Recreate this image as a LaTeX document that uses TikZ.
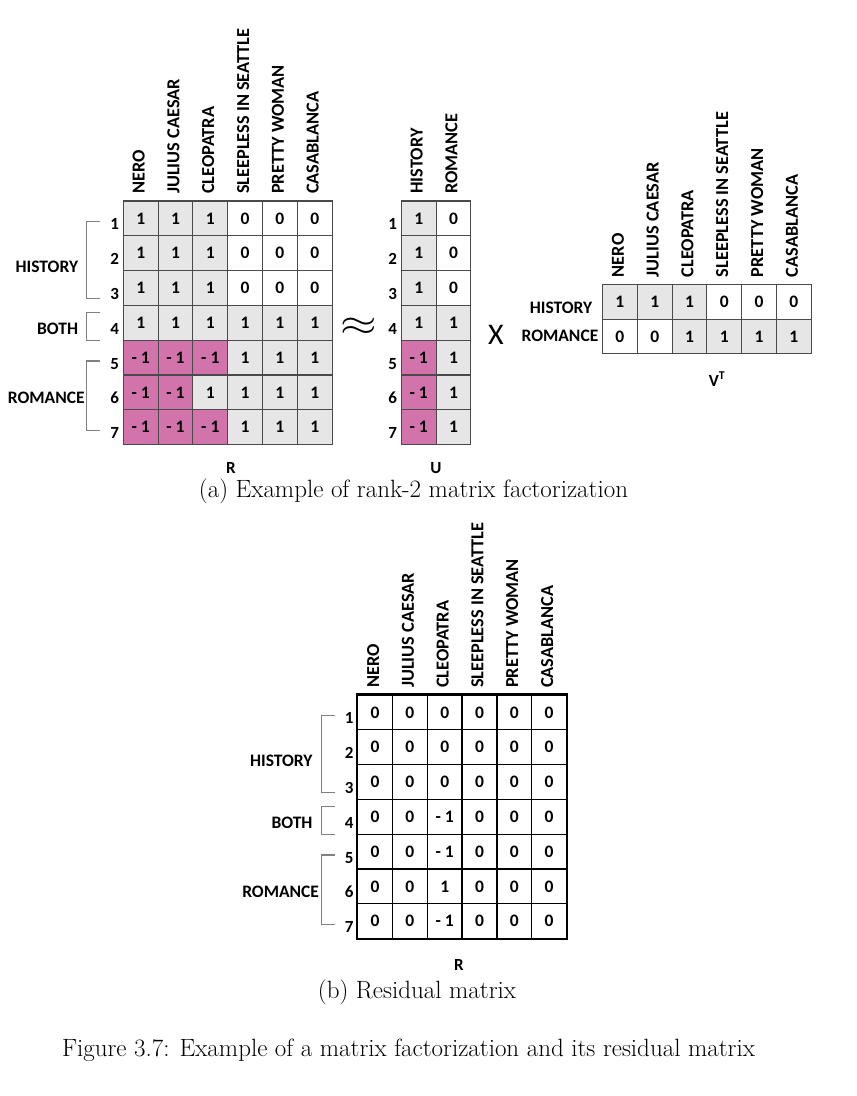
\documentclass[tikz,border=0pt]{standalone}
\usepackage{fontspec}
\usepackage{graphicx}
\newfontfamily\calfont{Carlito}
\definecolor{cg}{HTML}{E6E6E6}
\definecolor{cp}{HTML}{D273AB}
\definecolor{cw}{HTML}{FFFFFF}
\definecolor{gridgray}{HTML}{4A4A4A}
\tikzset{
  cell/.style={draw=gridgray,line width=1.1pt,minimum size=34.8pt,inner sep=0pt,
    font=\calfont\bfseries\fontsize{17.5}{19}\selectfont},
  rescell/.style={cell,draw=black,line width=1.3pt},
  head/.style={rotate=90,anchor=west,inner sep=0pt,font=\calfont\bfseries\fontsize{18.3}{20}\selectfont},
  rownum/.style={anchor=base east,inner sep=0pt,font=\calfont\bfseries\fontsize{17}{19}\selectfont},
  grp/.style={anchor=east,inner sep=0pt,font=\calfont\bfseries\fontsize{17.5}{19}\selectfont},
  brk/.style={draw=gray,line width=1.2pt},
  mname/.style={anchor=base,inner sep=0pt,font=\calfont\bfseries\fontsize{17}{19}\selectfont},
  captext/.style={anchor=base,inner sep=0pt,font=\fontsize{25}{30}\selectfont}
}
% column titles above a matrix of movies
\newcommand\movieheads[1]{%
  \foreach[count=\c] \m in {NERO,JULIUS CAESAR,CLEOPATRA,SLEEPLESS IN SEATTLE,PRETTY WOMAN,CASABLANCA}
    \node[head] (#1h\c) at ({(\c-.5)*34.8-2},-7) {\m};}
% row numbers, brackets and group names left of a 7-row matrix
\newcommand\rowgroups[1]{%
  \foreach \g/\a/\b/\lx/\ly in {HISTORY/.6/2.8/-45/66,BOTH/3.2/4/-45/128,ROMANCE/4.6/6.6/-38.5/197}{
    \draw[brk] (-23,\a*34.8) -- (-36.5,\a*34.8) -- (-36.5,\b*34.8) -- (-23,\b*34.8);
    \node[grp] (#1\g) at (\lx,\ly) {\g};}
  \foreach \r in {1,...,7} \node[rownum] (#1n\r) at (-4,\r*34.8-6) {\r};}
\begin{document}
\begin{tikzpicture}[x=1pt,y=-1pt]
\useasboundingbox (0,0) rectangle (857,1096);
% R
\begin{scope}[shift={(123.3,201)}]
\foreach[count=\r] \row in {{1/cg,1/cg,1/cg,0/cw,0/cw,0/cw},{1/cg,1/cg,1/cg,0/cw,0/cw,0/cw},
  {1/cg,1/cg,1/cg,0/cw,0/cw,0/cw},{1/cg,1/cg,1/cg,1/cg,1/cg,1/cg},
  {- 1/cp,- 1/cp,- 1/cp,1/cg,1/cg,1/cg},{- 1/cp,- 1/cp,1/cg,1/cg,1/cg,1/cg},
  {- 1/cp,- 1/cp,- 1/cp,1/cg,1/cg,1/cg}}{
  \foreach[count=\c] \v/\f in \row
    \node[cell,fill=\f] (R-\r-\c) at ({(\c-.5)*34.8},{(\r-.5)*34.8}) {\v};}
\movieheads{R}
\rowgroups{R}
\end{scope}
\node[mname] (Rname) at (231,473) {R};
\node (approx) at (358.5,327) {\scalebox{4.7}[3.6]{$\approx$}};
% U
\begin{scope}[shift={(401.3,201)}]
\foreach[count=\r] \row in {{1/cg,0/cw},{1/cg,0/cw},{1/cg,0/cw},{1/cg,1/cg},
  {- 1/cp,1/cg},{- 1/cp,1/cg},{- 1/cp,1/cg}}{
  \foreach[count=\c] \v/\f in \row
    \node[cell,fill=\f] (U-\r-\c) at ({(\c-.5)*34.8},{(\r-.5)*34.8}) {\v};}
\foreach[count=\c] \m in {HISTORY,ROMANCE}
  \node[head] (Uh\c) at ({(\c-.5)*34.8-2},-7) {\m};
\foreach \r in {1,...,7} \node[rownum] (Un\r) at (-4,\r*34.8-6) {\r};
\end{scope}
\node[mname] (Uname) at (436,473) {U};
\node[font=\calfont\fontsize{30}{30}\selectfont] (times) at (496,335) {X};
% V transposed
\begin{scope}[shift={(602.5,284.3)}]
\foreach[count=\r] \row in {{1/cg,1/cg,1/cg,0/cw,0/cw,0/cw},{0/cw,0/cw,1/cg,1/cg,1/cg,1/cg}}{
  \foreach[count=\c] \v/\f in \row
    \node[cell,fill=\f] (V-\r-\c) at ({(\c-.5)*34.8},{(\r-.5)*34.8}) {\v};}
\movieheads{V}
\node[grp] (Vhist) at (-10,24) {HISTORY};
\node[grp] (Vrom) at (-4,52) {ROMANCE};
\end{scope}
\node[mname] (Vname) at (717,386) {V\textsuperscript{T}};
\node[captext] (capa) at (413.5,497) {(a) Example of rank-2 matrix factorization};
% residual
\begin{scope}[shift={(357.7,695)}]
\foreach[count=\r] \row in {{0,0,0,0,0,0},{0,0,0,0,0,0},{0,0,0,0,0,0},{0,0,- 1,0,0,0},
  {0,0,- 1,0,0,0},{0,0,1,0,0,0},{0,0,- 1,0,0,0}}{
  \foreach[count=\c] \v in \row
    \node[rescell,fill=white] (E-\r-\c) at ({(\c-.5)*34.8},{(\r-.5)*34.8}) {\v};}
\draw[line width=1.8pt] (E-1-1.north west) rectangle (E-7-6.south east);
\movieheads{E}
\rowgroups{E}
\end{scope}
\node[mname] (Ename) at (459,970) {R};
\node[captext] (capb) at (417,998) {(b) Residual matrix};
\node[captext] (capfig) at (408.5,1056) {Figure 3.7: Example of a matrix factorization and its residual matrix};
\end{tikzpicture}
\end{document}
